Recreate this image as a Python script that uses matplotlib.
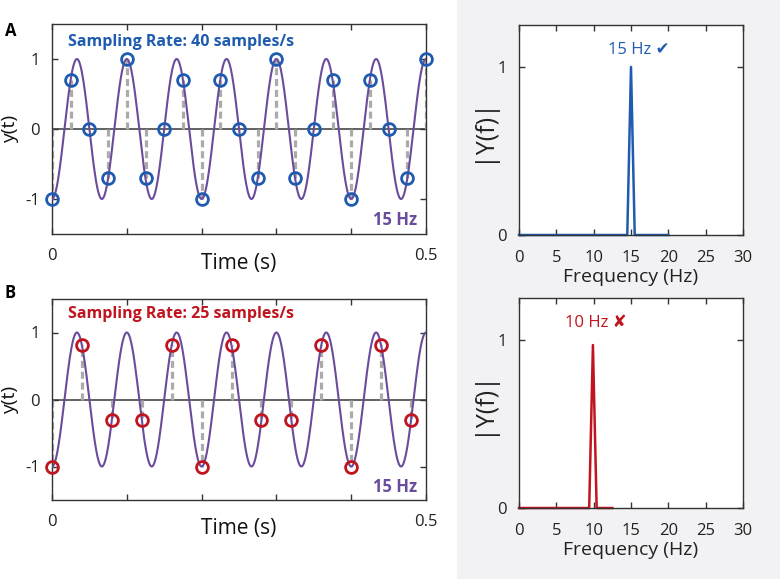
import numpy as np
import matplotlib
matplotlib.use("Agg")
import matplotlib.pyplot as plt
from matplotlib.patches import Rectangle

plt.rcParams['font.family'] = ['Open Sans', 'DejaVu Sans']

# ---- data ----
signal_freq = 15  # Hz
rate_a = 40
rate_b = 25
samples_a = [-1, 0.707, 0, -0.707, 1, -0.707, 0, 0.707, -1, 0.707, 0,
             -0.707, 1, -0.707, 0, 0.707, -1, 0.707, 0, -0.707, 1]
samples_b = [-1, 0.809, -0.309, -0.309, 0.809, -1, 0.809, -0.309, -0.309,
             0.809, -1, 0.809, -0.309]
spec_freq_a = [0, 14.5, 15, 15.5, 20]
spec_amp_a = [0, 0, 1, 0, 0]
spec_freq_b = [0, 9.4, 9.9, 10.4, 12.5]
spec_amp_b = [0, 0, 0.97, 0, 0]
label_a = "Sampling Rate: 40 samples/s"
label_b = "Sampling Rate: 25 samples/s"
peak_label_a = "15 Hz \u2714"
peak_label_b = "10 Hz \u2718"
time_ticks = [0, 0.1, 0.2, 0.3, 0.4, 0.5]
time_ticklabels = ["0", "", "", "", "", "0.5"]
freq_ticks = [0, 5, 10, 15, 20, 25, 30]

BLUE = "#1f5cb0"
RED = "#c0141e"
PURPLE = "#6a4c9c"
GREY = "#ababab"
SPINE = "#333333"

W, H = 780, 579
fig = plt.figure(figsize=(W / 100, H / 100), dpi=100)
fig.patch.set_facecolor("white")
fig.patches.append(Rectangle((457 / W, 0), 1 - 457 / W, 1, transform=fig.transFigure,
                             facecolor="#f2f2f4", edgecolor="none", zorder=-10))


def px_axes(x0, y0, x1, y1):
    return fig.add_axes([x0 / W, 1 - y1 / H, (x1 - x0) / W, (y1 - y0) / H])


def style(ax):
    for s in ax.spines.values():
        s.set_color(SPINE)
        s.set_linewidth(1.0)
    ax.tick_params(direction="in", top=True, right=True, length=4, width=1,
                   color=SPINE, labelcolor="#222222", labelsize=12)
    ax.tick_params(axis="y", pad=9)


def time_panel(ax, rate, samples, color, text, ypos):
    t = np.linspace(0, 0.5, 1500)
    y = -np.cos(2 * np.pi * signal_freq * t)
    ts = np.arange(len(samples)) / rate
    ax.axhline(0, color="#555555", lw=1.3, zorder=1)
    ax.vlines(ts, 0, samples, colors=GREY, linestyles=(0, (2.2, 1.2)), lw=2.3, zorder=2)
    ax.plot(t, y, color=PURPLE, lw=1.5, zorder=3)
    ax.plot(ts, samples, "o", mfc="none", mec=color, mew=2.0, ms=8.5, zorder=4,
            clip_on=False)
    ax.set_xlim(0, 0.5)
    ax.set_ylim(-1.5, 1.5)
    ax.set_xticks(time_ticks)
    ax.set_xticklabels(time_ticklabels)
    ax.set_yticks([-1, 0, 1])
    ax.set_yticklabels(["-1", "0", "1"])
    style(ax)
    ax.tick_params(axis="x", pad=10)
    ax.set_xlabel("Time (s)", fontsize=15, color="#111111")
    ax.xaxis.set_label_coords(0.5, -0.09)
    ax.set_ylabel("y(t)", fontsize=14, color="#111111")
    ax.yaxis.set_label_coords(-0.088, 0.5)
    ax.text(0.021, ypos, text, color=color, fontsize=11.5, fontweight="bold",
            va="center", ha="left")
    ax.text(0.488, -1.3, "15 Hz", color=PURPLE, fontsize=12, fontweight="bold",
            va="center", ha="right")


def spec_panel(ax, f, a, color, text, xt):
    ax.plot(f, a, color=color, lw=1.8, clip_on=False)
    ax.set_xlim(0, 30)
    ax.set_ylim(0, 1.25)
    ax.set_xticks(freq_ticks)
    ax.set_yticks([0, 1])
    style(ax)
    ax.tick_params(axis="x", pad=11)
    ax.set_xlabel("Frequency (Hz)", fontsize=14, color="#222222", labelpad=1)
    ax.set_ylabel("|Y(f)|", fontsize=18, color="#222222")
    ax.yaxis.set_label_coords(-0.107, 0.5)
    ax.text(xt, 1.10, text, color=color, fontsize=12, va="center", ha="center")


ax1 = px_axes(52, 24, 426, 234)
time_panel(ax1, rate_a, samples_a, BLUE, label_a, 1.24)
ax2 = px_axes(52, 299, 426, 500)
time_panel(ax2, rate_b, samples_b, RED, label_b, 1.27)

ax3 = px_axes(519, 25, 743, 235)
spec_panel(ax3, spec_freq_a, spec_amp_a, BLUE, peak_label_a, 16.0)
ax4 = px_axes(519, 298, 743, 508)
spec_panel(ax4, spec_freq_b, spec_amp_b, RED, peak_label_b, 10.3)

fig.text(5 / W, 1 - 31 / H, "A", fontsize=12, fontweight="bold", va="center", ha="left")
fig.text(5 / W, 1 - 293 / H, "B", fontsize=12, fontweight="bold", va="center", ha="left")

fig.savefig("out.png", dpi=100)
